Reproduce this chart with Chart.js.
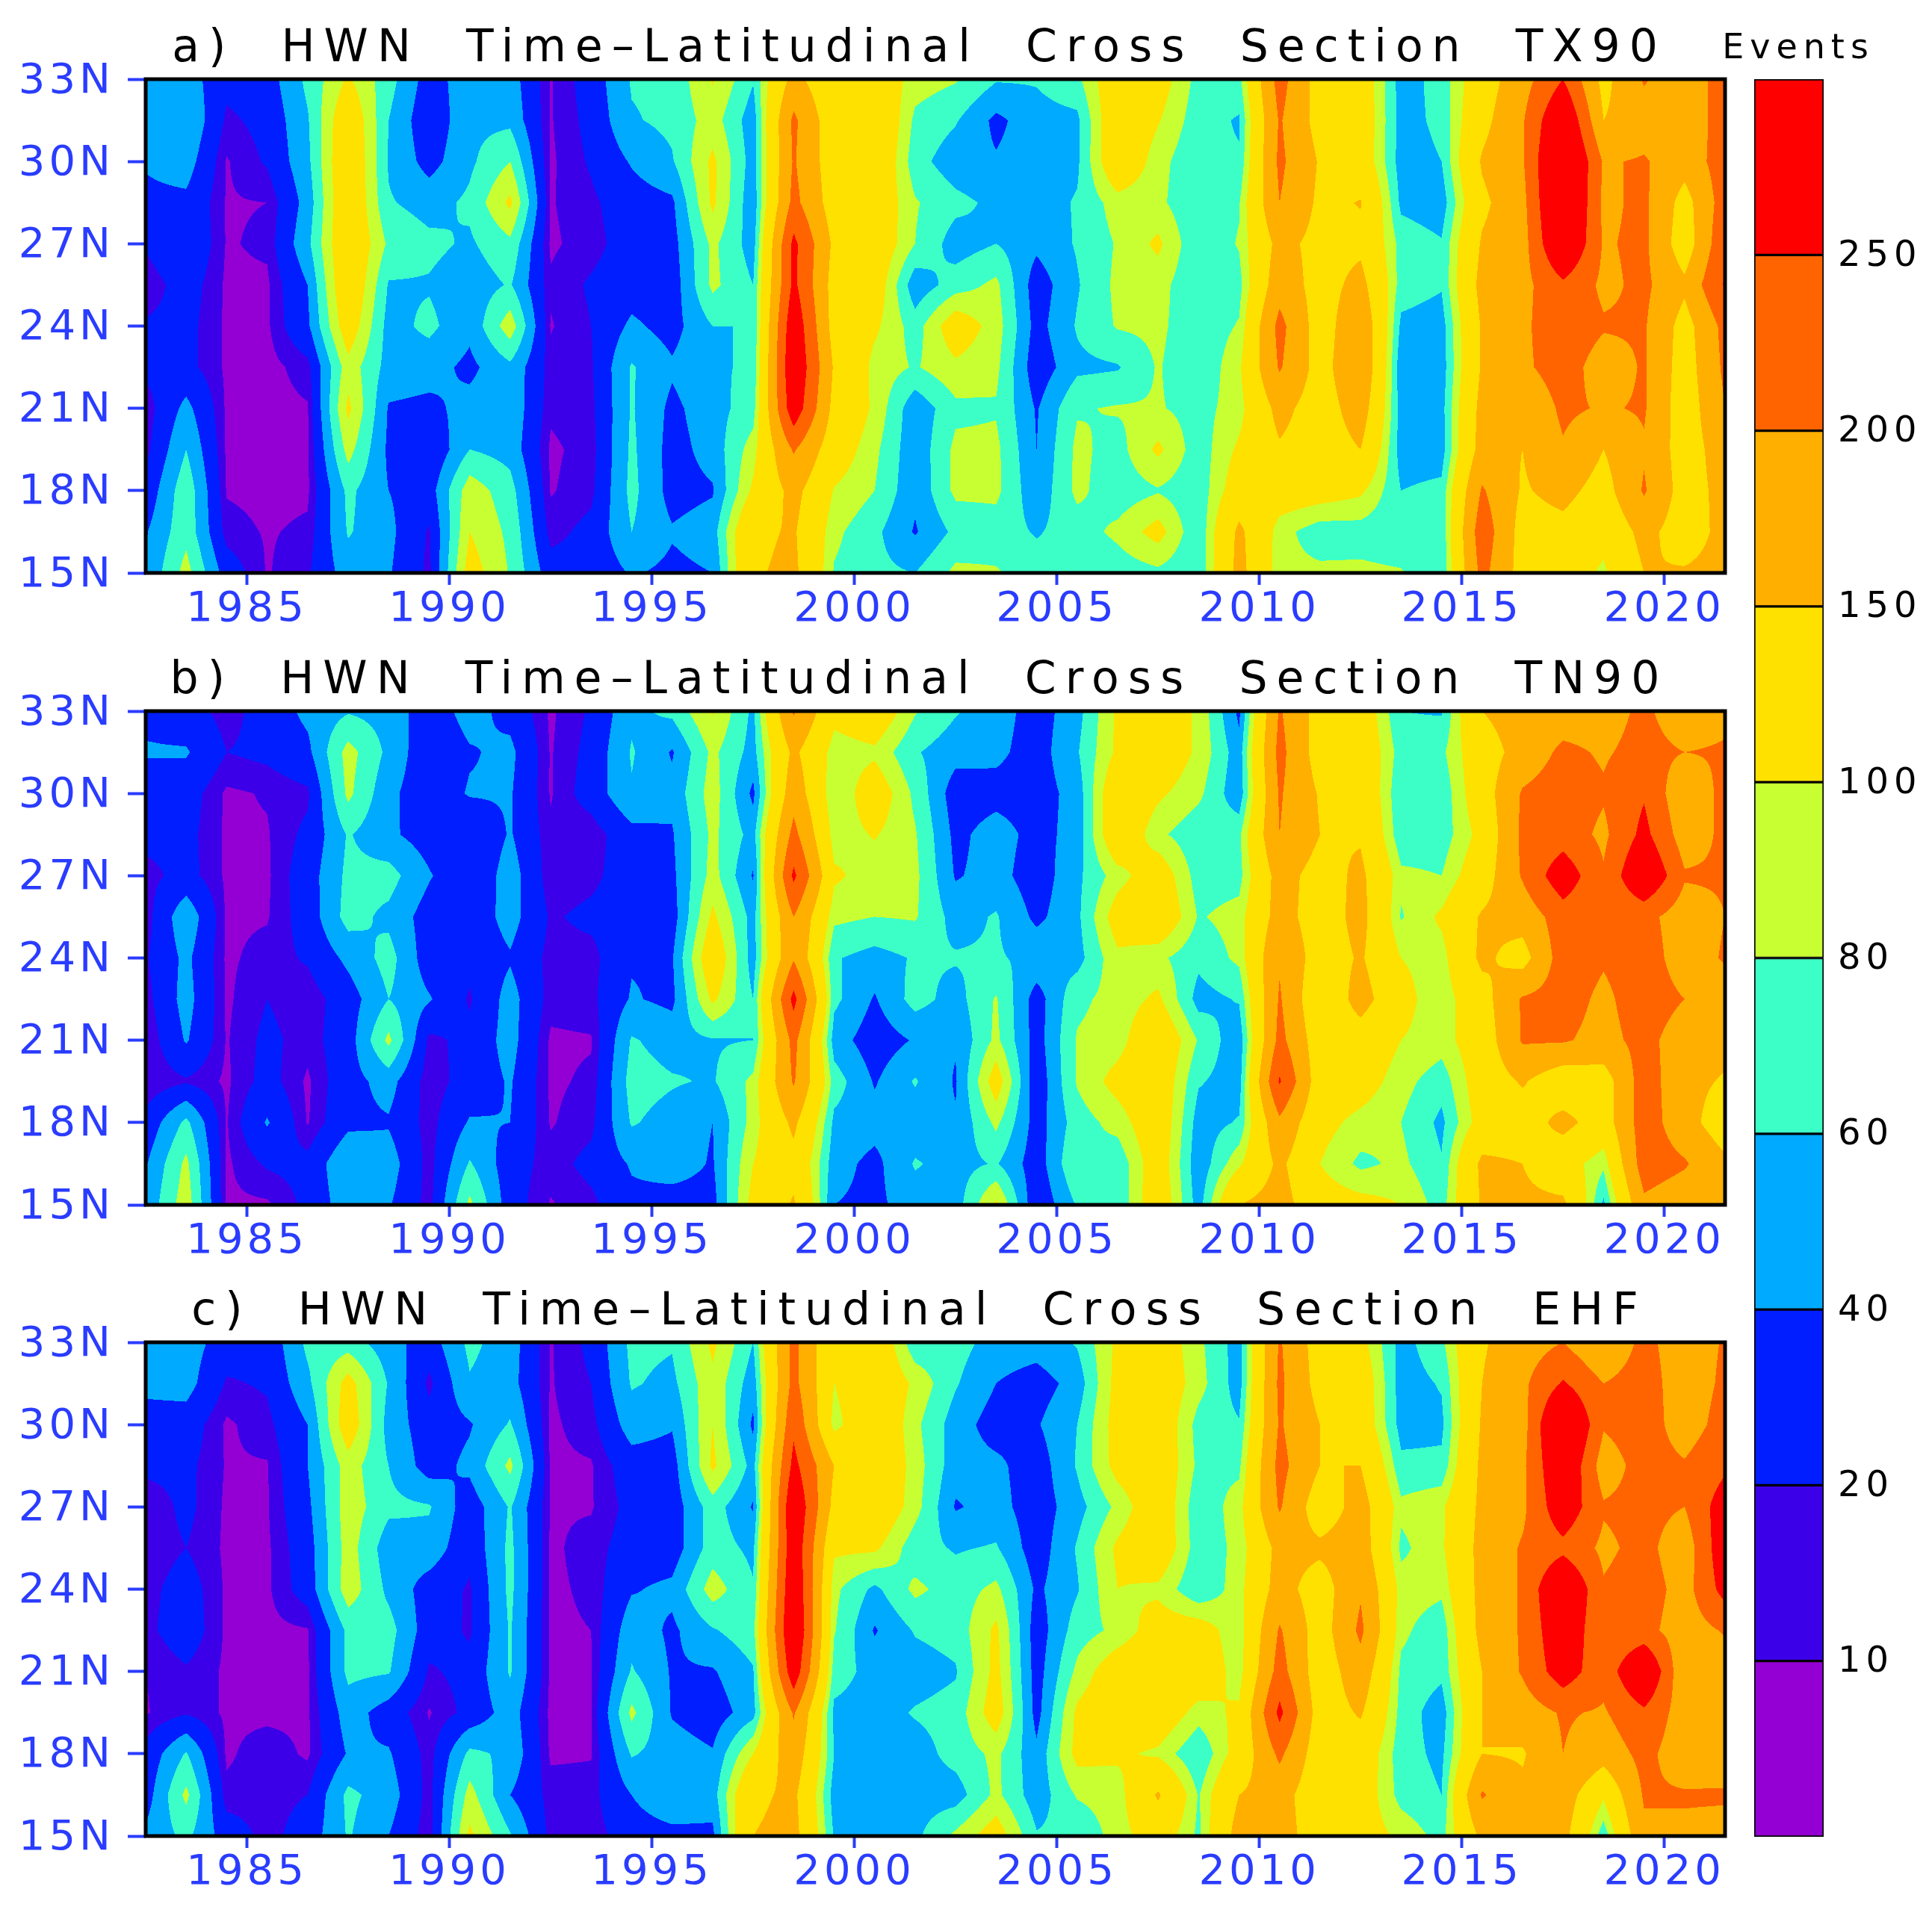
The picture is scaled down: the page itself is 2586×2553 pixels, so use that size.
<!DOCTYPE html>
<html>
<head>
<meta charset="utf-8">
<title>HWN Time-Latitudinal Cross Section</title>
<script src="https://cdn.jsdelivr.net/npm/chart.js@4"></script>
<style>
  html, body { margin: 0; padding: 0; background: #fff; }
  #page { position: relative; width: 2586px; height: 2553px; overflow: hidden; }
  canvas { position: absolute; }
</style>
</head>
<body>
<div id="page">
  <canvas id="panelA" style="left:0px;top:0px" width="2456" height="845"></canvas>
  <canvas id="panelB" style="left:0px;top:846px" width="2456" height="845"></canvas>
  <canvas id="panelC" style="left:0px;top:1691px" width="2456" height="845"></canvas>
  <canvas id="colorBar" style="left:2228px;top:0px" width="358" height="2553"></canvas>
</div>
<script>
// latitudes of each profile, north to south
const lats = [33, 31.5, 30, 28.5, 27, 25.5, 24, 22.5, 21, 19.5, 18, 16.5, 15];
const firstYear = 1982.5; // annual values sit mid-year, 1982.5 ... 2021.5
const xTickYears = [1985, 1990, 1995, 2000, 2005, 2010, 2015, 2020];
const levels = [10, 20, 40, 60, 80, 100, 150, 200, 250];
const bandColors = ['#9400d3', '#3c00e8', '#001eff', '#00aaff', '#3cffc8', '#c8ff32', '#ffe100', '#ffaf00', '#ff6400', '#ff0000'];

// one row per year, each row a 33N -> 15N profile of events
const tx90 = [
  [45,44,42,35,22,12,22,25,12,15,25,38,42],
  [50,60,50,35,38,28,25,25,46,60,74,74,88],
  [25,17,9,9,9,8,8,8,8,8,9,14,30],
  [30,25,22,10,12,8,8,6,6,6,7,9,9],
  [65,58,55,48,55,40,36,15,9,8,8,12,18],
  [103,125,130,130,130,130,118,92,105,88,65,62,50],
  [68,60,58,62,76,58,52,52,38,36,40,45,42],
  [30,24,32,52,65,58,65,48,35,20,30,18,16],
  [52,55,56,64,57,48,45,35,47,60,92,100,112],
  [50,55,80,105,75,62,92,55,55,52,68,75,78],
  [9,9,8,9,8,12,9,14,12,8,9,15,28],
  [28,25,22,17,15,22,20,18,16,14,16,25,25],
  [62,58,42,30,28,30,44,62,62,64,66,60,42],
  [65,65,58,36,32,28,32,43,35,32,32,42,35],
  [102,90,105,105,85,85,60,58,52,48,38,50,40],
  [62,48,50,45,50,60,60,62,70,90,105,140,145],
  [165,210,205,215,262,262,290,300,285,205,165,155,160],
  [110,115,120,125,140,130,130,145,135,120,98,85,78],
  [125,140,135,125,125,120,105,92,95,85,80,65,65],
  [90,75,68,82,80,46,70,78,45,45,44,38,60],
  [82,62,48,66,50,70,118,95,75,85,85,65,85],
  [62,35,42,55,60,85,90,85,78,85,85,70,82],
  [62,52,50,50,45,28,32,26,38,40,45,58,70],
  [75,55,56,62,62,58,62,55,78,85,85,70,62],
  [125,130,130,90,82,85,82,58,82,72,68,85,68],
  [115,102,88,85,105,88,85,82,82,105,78,110,75],
  [72,68,62,62,62,62,65,62,72,68,66,62,62],
  [72,58,62,78,82,72,82,95,90,105,120,160,165],
  [220,205,210,200,165,180,215,205,165,145,120,88,85],
  [125,130,145,140,135,130,125,130,125,125,115,68,85],
  [125,125,125,152,140,165,190,195,175,150,105,70,85],
  [50,52,50,55,72,70,55,45,50,50,60,65,82],
  [68,65,60,48,62,62,50,48,52,50,65,62,62],
  [125,135,155,140,155,165,155,155,165,170,205,230,215],
  [180,195,195,185,180,185,190,190,155,150,145,130,130],
  [250,310,340,340,320,240,235,225,210,195,165,135,118],
  [135,150,195,190,195,190,205,175,195,150,130,110,95],
  [205,175,205,210,210,210,205,205,205,195,205,165,150],
  [165,165,170,130,120,160,130,125,120,125,128,125,155],
  [225,225,225,225,240,255,215,210,200,175,165,165,165]
];
const tn90 = [
  [35,42,28,25,15,13,18,14,9,10,25,38,45],
  [28,42,28,25,26,55,45,48,42,18,65,85,92],
  [14,20,8,8,8,8,8,8,9,8,9,8,8],
  [28,24,11,9,8,9,14,20,24,26,42,22,8],
  [45,35,17,24,30,28,22,12,14,8,9,25,24],
  [58,88,85,62,65,68,45,30,30,32,35,58,52],
  [52,55,45,44,68,55,68,60,85,48,38,50,42],
  [28,24,26,30,42,30,28,42,16,12,14,14,14],
  [48,38,42,20,21,26,25,18,25,28,42,62,85],
  [33,45,42,42,50,48,38,48,48,42,40,28,28],
  [8,9,9,12,12,18,15,14,8,8,9,14,9],
  [22,25,28,12,16,24,15,16,9,12,16,25,16],
  [55,62,58,33,30,28,38,42,62,68,62,42,35],
  [65,38,46,38,35,30,38,35,52,62,52,50,30],
  [102,85,90,85,88,105,125,105,58,58,40,38,32],
  [55,52,35,52,38,52,50,60,60,85,88,100,110],
  [205,160,180,215,260,200,195,265,215,205,160,135,155],
  [110,88,80,88,105,85,62,65,50,70,55,48,40],
  [125,95,120,102,88,80,52,38,28,38,48,34,35],
  [82,62,75,82,85,82,62,68,42,62,48,62,50],
  [62,48,28,34,38,52,62,52,42,38,42,52,50],
  [50,45,32,50,48,62,62,82,85,115,85,62,105],
  [30,30,30,32,28,35,55,30,30,25,30,28,22],
  [52,58,48,48,55,55,52,75,82,82,70,80,62],
  [105,105,130,130,90,115,95,88,90,110,88,65,62],
  [125,125,105,85,120,130,85,105,130,125,125,120,125],
  [95,95,85,65,70,78,65,52,78,62,50,45,50],
  [35,48,45,75,72,88,85,62,45,50,62,95,150],
  [205,215,205,200,170,170,195,205,215,255,190,160,170],
  [130,125,145,150,130,125,125,105,120,120,110,100,115],
  [125,130,135,145,160,165,155,170,125,115,92,75,110],
  [60,70,62,65,85,78,100,110,100,88,80,85,100],
  [58,75,65,68,80,105,90,85,90,68,55,62,70],
  [150,125,125,110,125,155,160,130,120,120,115,160,155],
  [175,170,205,210,205,170,130,205,205,155,125,150,160],
  [175,210,225,225,285,225,225,220,205,115,165,115,160],
  [180,195,205,190,205,205,205,190,185,125,125,85,55],
  [210,215,245,265,310,215,225,225,215,225,225,225,190],
  [170,200,160,175,205,175,175,200,175,165,170,205,170],
  [190,205,215,210,205,200,205,170,165,145,120,160,170]
];
const ehf = [
  [48,46,30,24,11,12,15,16,10,9,25,30,45],
  [50,48,30,24,24,20,28,30,18,18,62,85,65],
  [30,18,8,9,8,8,8,8,8,8,8,13,30],
  [25,22,16,9,9,8,8,7,8,7,16,15,15],
  [65,55,40,40,35,30,28,9,8,8,8,20,28],
  [70,110,118,90,92,90,92,65,65,50,42,65,62],
  [48,58,52,60,65,48,55,68,62,30,42,50,40],
  [30,16,28,30,62,52,30,28,18,9,14,14,12],
  [65,58,38,45,28,25,18,18,25,25,65,88,105],
  [50,48,62,85,62,65,65,62,62,50,55,40,62],
  [9,9,8,8,9,8,8,8,8,7,8,15,15],
  [24,20,15,9,9,14,12,10,9,9,9,15,14],
  [65,62,50,30,25,28,38,52,62,85,62,40,28],
  [62,55,42,30,28,28,45,36,38,38,50,60,32],
  [105,95,100,105,70,70,90,58,38,28,42,50,35],
  [60,48,36,52,38,55,62,72,58,52,100,140,150],
  [215,215,240,265,300,290,300,310,285,205,180,160,165],
  [100,100,90,150,135,105,85,82,70,55,60,50,58],
  [130,130,135,135,130,105,55,38,52,50,58,50,48],
  [65,95,85,90,88,68,85,62,50,62,50,50,55],
  [68,62,50,48,38,58,70,68,58,68,68,50,85],
  [52,40,30,45,48,62,85,105,108,115,85,85,115],
  [50,30,38,28,28,28,36,28,30,32,45,48,62],
  [62,48,60,62,52,62,58,70,85,105,108,82,65],
  [105,110,112,110,85,105,100,85,120,125,105,88,88],
  [120,125,125,125,125,125,95,115,130,125,95,155,120],
  [85,88,72,75,65,68,62,115,125,90,60,78,75],
  [50,50,62,75,90,85,90,85,88,105,115,150,170],
  [205,210,205,215,205,165,170,205,220,262,210,170,170],
  [125,130,150,150,120,160,125,125,120,125,120,115,125],
  [110,125,125,150,170,175,195,210,180,155,125,120,115],
  [52,50,52,65,85,75,90,85,75,72,68,72,95],
  [75,62,55,65,95,95,85,66,65,48,55,60,72],
  [145,150,155,160,160,165,165,165,150,150,150,205,160],
  [175,190,180,190,190,205,205,205,205,175,145,160,155],
  [200,255,340,310,290,235,320,300,280,205,200,175,165],
  [150,200,205,175,205,190,205,205,215,195,170,105,65],
  [215,225,225,220,215,215,225,215,320,240,215,205,190],
  [170,170,175,205,200,170,180,175,155,175,170,205,190],
  [205,210,220,240,280,290,270,205,175,180,175,205,185]
];
const titles = {
  panelA: 'a)  HWN  Time–Latitudinal  Cross  Section  TX90',
  panelB: 'b)  HWN  Time–Latitudinal  Cross  Section  TN90',
  panelC: 'c)  HWN  Time–Latitudinal  Cross  Section  EHF'
};

const BLUE = '#2a3cff';
const hexRgb = h => [1, 3, 5].map(i => parseInt(h.substr(i, 2), 16));
const bandRgb = bandColors.map(hexRgb);

function bandOf(v) {
  let i = 0;
  while (i < levels.length && v >= levels[i]) i++;
  return i;
}

// the stroke font of the original is wide, so open the glyphs up and nudge the title
function spacedText(tickGap, titleGap, titleShift) {
  return {
    id: 'spacedText',
    beforeDraw(chart) {
      const ctx = chart.ctx;
      ctx.letterSpacing = tickGap + 'px';
      if (chart.titleBlock && !chart.titleBlock._spaced) {
        const drawTitle = chart.titleBlock.draw;
        chart.titleBlock.draw = function() {
          ctx.save();
          ctx.letterSpacing = titleGap + 'px';
          ctx.translate(titleShift, 0);
          drawTitle.apply(this, arguments);
          ctx.restore();
        };
        chart.titleBlock._spaced = true;
      }
    }
  };
}

// filled contours: every pixel asks the scales where it is, then interpolates the profiles
const contourField = {
  id: 'contourField',
  beforeDatasetsDraw(chart) {
    const grid = chart.data.datasets[0].grid;
    const { left, top, right, bottom } = chart.chartArea;
    const xs = chart.scales.x, ys = chart.scales.y;
    const w = Math.round(right - left), h = Math.round(bottom - top);
    const img = chart.ctx.createImageData(w, h);
    for (let py = 0; py < h; py++) {
      const lat = ys.getValueForPixel(top + py + 0.5);
      let rf = (lats[0] - lat) / 1.5;
      rf = Math.max(0, Math.min(lats.length - 1.001, rf));
      const r0 = Math.floor(rf), tr = rf - r0;
      for (let px = 0; px < w; px++) {
        const yr = xs.getValueForPixel(left + px + 0.5);
        let cf = yr - firstYear;
        cf = Math.max(0, Math.min(grid.length - 1.001, cf));
        const c0 = Math.floor(cf), tc = cf - c0;
        const v = (grid[c0][r0] * (1 - tr) + grid[c0][r0 + 1] * tr) * (1 - tc)
                + (grid[c0 + 1][r0] * (1 - tr) + grid[c0 + 1][r0 + 1] * tr) * tc;
        const c = bandRgb[bandOf(v)];
        const k = (py * w + px) * 4;
        img.data[k] = c[0]; img.data[k + 1] = c[1]; img.data[k + 2] = c[2]; img.data[k + 3] = 255;
      }
    }
    chart.ctx.putImageData(img, Math.round(left), Math.round(top));
  },
  afterDatasetsDraw(chart) {
    const { left, top, right, bottom } = chart.chartArea;
    const ctx = chart.ctx;
    ctx.save();
    ctx.strokeStyle = '#000';
    ctx.lineWidth = 5;
    ctx.strokeRect(left, top, right - left, bottom - top);
    ctx.restore();
  }
};

function panel(id, grid) {
  const points = [];
  grid.forEach((col, c) => col.forEach((v, r) => points.push({ x: firstYear + c, y: lats[r], v })));
  return new Chart(document.getElementById(id), {
    type: 'scatter',
    data: { datasets: [{ data: points, grid, pointRadius: 0, showLine: false }] },
    options: {
      responsive: false, animation: false,
      layout: { padding: { left: 0, right: 147, top: 0, bottom: 0 } },
      plugins: {
        legend: { display: false },
        tooltip: { enabled: false },
        title: {
          display: true, text: titles[id], color: '#000',
          font: { family: 'DejaVu Sans', size: 60, weight: 'normal', lineHeight: 1 },
          padding: { top: 36, bottom: 10 }
        }
      },
      scales: {
        x: {
          type: 'linear', min: firstYear, max: 2021.5,
          afterBuildTicks: s => { s.ticks = xTickYears.map(v => ({ value: v })); },
          afterFit: s => { s.height = 78; },
          grid: { drawOnChartArea: false, drawTicks: true, tickLength: 16, tickColor: BLUE, tickWidth: 4 },
          border: { display: false },
          ticks: {
            color: BLUE, font: { family: 'DejaVu Sans', size: 56 }, padding: 0,
            maxRotation: 0, autoSkip: false, callback: v => String(v)
          }
        },
        y: {
          type: 'linear', min: 15, max: 33,
          afterFit: s => { s.width = 195; },
          grid: { drawOnChartArea: false, drawTicks: true, tickLength: 24, tickColor: BLUE, tickWidth: 4 },
          border: { display: false },
          ticks: {
            color: BLUE, font: { family: 'DejaVu Sans', size: 56 }, padding: 18, labelOffset: 3,
            stepSize: 3, callback: v => v + 'N'
          }
        }
      }
    },
    plugins: [spacedText(5, 12, 76), contourField]
  });
}

panel('panelA', tx90);
panel('panelB', tn90);
panel('panelC', ehf);

// colour key, one stacked segment per band
new Chart(document.getElementById('colorBar'), {
  type: 'bar',
  data: {
    labels: [''],
    datasets: bandColors.map(c => ({
      data: [1], backgroundColor: c, borderColor: '#000', borderWidth: 2, borderSkipped: false,
      barPercentage: 1, categoryPercentage: 1
    }))
  },
  options: {
    responsive: false, animation: false,
    layout: { padding: { left: 120, right: 0, top: 0, bottom: 94 } },
    plugins: {
      legend: { display: false },
      tooltip: { enabled: false },
      title: {
        display: true, text: 'Events', color: '#000',
        font: { family: 'DejaVu Sans', size: 46, weight: 'normal', lineHeight: 1 },
        padding: { top: 43, bottom: 17 }
      }
    },
    scales: {
      x: { stacked: true, display: false },
      y: {
        stacked: true, position: 'right', min: 0, max: 10,
        afterFit: s => { s.width = 145; },
        grid: { display: false, drawTicks: false },
        border: { display: false },
        ticks: {
          color: '#000', font: { family: 'DejaVu Sans', size: 48 }, padding: 19, stepSize: 1, labelOffset: 2,
          callback: v => (v >= 1 && v <= 9) ? String(levels[v - 1]) : ''
        }
      }
    }
  },
  plugins: [spacedText(7, 8, -60)]
});
</script>
</body>
</html>
